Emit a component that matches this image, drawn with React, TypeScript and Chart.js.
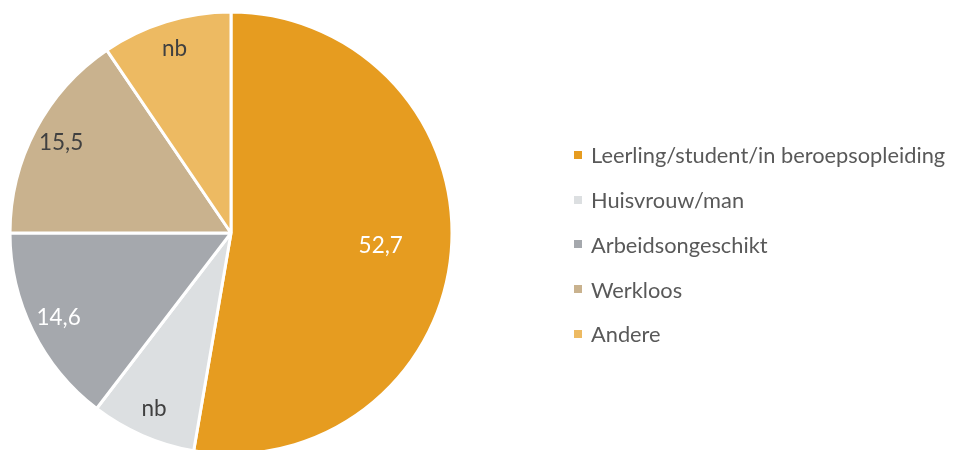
import React, { useEffect, useRef } from "react";
import { Chart, registerables } from "chart.js";

Chart.register(...registerables);

const categories = [
  "Leerling/student/in beroepsopleiding",
  "Huisvrouw/man",
  "Arbeidsongeschikt",
  "Werkloos",
  "Andere",
];
// slice sizes (%) — "nb" slices estimated from the drawn angle
const values = [52.7, 7.7, 14.6, 15.5, 9.5];
const reported = [true, false, true, true, false];
const colors = ["#E69C20", "#DCDFE1", "#A5A8AD", "#C9B28E", "#EDBA62"];
const labelColors = ["#FFFFFF", "#404040", "#FFFFFF", "#404040", "#404040"];

const FONT = "Lato, 'Open Sans', sans-serif";

const labelPlugin = {
  id: "sliceLabels",
  afterDatasetsDraw(chart: any) {
    const ctx = chart.ctx;
    const meta = chart.getDatasetMeta(0);
    const total = values.reduce((a, b) => a + b, 0);
    ctx.save();
    ctx.font = `22.5px ${FONT}`;
    ctx.textAlign = "center";
    ctx.textBaseline = "middle";
    meta.data.forEach((arc: any, i: number) => {
      const p = arc.getProps(["x", "y", "startAngle", "endAngle", "outerRadius"], true);
      const mid = (p.startAngle + p.endAngle) / 2;
      const frac = values[i] / total > 0.5 ? 0.68 : 0.87;
      const r = p.outerRadius * frac;
      const x = p.x + Math.cos(mid) * r;
      const y = p.y + Math.sin(mid) * r;
      const text = reported[i] ? values[i].toFixed(1).replace(".", ",") : "nb";
      ctx.fillStyle = labelColors[i];
      ctx.fillText(text, x, y);
    });
    ctx.restore();
  },
};

export default function App() {
  const ref = useRef<HTMLCanvasElement | null>(null);
  useEffect(() => {
    if (!ref.current) return;
    const chart = new Chart(ref.current, {
      type: "pie",
      data: {
        labels: categories,
        datasets: [
          {
            data: values,
            backgroundColor: colors,
            borderColor: "#FFFFFF",
            borderWidth: 3,
          },
        ],
      },
      options: {
        responsive: false,
        animation: false,
        layout: { padding: { left: 8.5, top: 10.5, right: 504.5, bottom: 12.5 } },
        plugins: {
          legend: { display: false },
          tooltip: { enabled: false },
        },
      },
      plugins: [labelPlugin],
    });
    return () => chart.destroy();
  }, []);

  return (
    <div
      style={{
        position: "absolute",
        left: 0,
        top: 0,
        width: 958,
        height: 450,
        overflow: "hidden",
        background: "#FFFFFF",
      }}
    >
      <canvas ref={ref} width={958} height={468} style={{ display: "block" }} />
      <div
        style={{
          position: "absolute",
          left: 574,
          top: 132.6,
          fontFamily: FONT,
          fontSize: 21.8,
          color: "#595959",
        }}
      >
        {categories.map((c, i) => (
          <div
            key={c}
            style={{ height: 44.75, display: "flex", alignItems: "center", whiteSpace: "nowrap" }}
          >
            <span
              style={{
                width: 8,
                height: 8,
                background: colors[i],
                marginRight: 9,
                display: "inline-block",
                flex: "none",
              }}
            />
            <span>{c}</span>
          </div>
        ))}
      </div>
    </div>
  );
}
